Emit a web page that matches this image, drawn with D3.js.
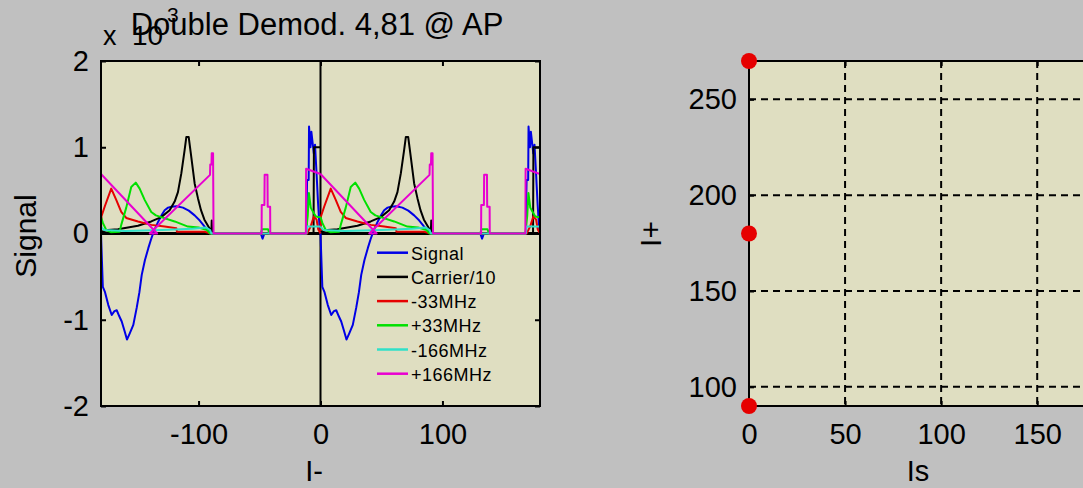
<!DOCTYPE html>
<html>
<head>
<meta charset="utf-8">
<script src="https://cdn.jsdelivr.net/npm/d3@7"></script>
<style>
  body { margin: 0; background: #c0c0c0; overflow: hidden; }
  text { font-family: "Liberation Sans", Arial, sans-serif; fill: #000; }
</style>
</head>
<body>
<div id="chart"></div>
<script>
// Double demod plot (left) + Is / I+ scatter (right)

const width = 1083, height = 488;

// one period of each trace: [offset within period (0..180), value]
const signalPts = [[0,0],[0.6,-250],[1.5,-620],[3.3,-680],[6,-830],[8.8,-945],[11,-900],[12.9,-890],[15,-960],[17,-1020],
  [19.5,-1140],[21.3,-1230],[23.5,-1160],[26.5,-1060],[29.3,-860],[31.5,-680],[33.4,-480],[36,-310],[38.8,-170],[41,-70],
  [43.7,40],[47,140],[50,220],[52.2,270],[55,300],[57.7,310],[62,315],[67.2,300],[72,265],[76.8,210],[81,150],[85,80],
  [88,30],[89.4,0],[131,0],[132.5,-60],[134,0],[168.5,0],[168.7,370],[169,620],[170.3,620],[170.6,1240],[171.8,1000],
  [172.5,1180],[174.5,930],[175.5,1030],[176.9,660],[178,350],[179.3,60],[180,0]];
const carrierPts = [[0,20],[5.7,40],[13.9,50],[30.3,90],[41.2,140],[49.4,190],[56.3,270],[60.4,370],[63.1,480],[65.9,700],
  [68.6,970],[70,1120],[71.9,1120],[74,890],[76.8,580],[79.5,410],[82,270],[84.8,160],[88.9,60],[90.5,20],[90.8,150],
  [91.2,0],[174.3,0],[174.6,1000],[180,1000]];
const minus33Pts = [[0,30],[0.4,200],[3,310],[8.4,520],[12.5,390],[16.6,250],[20.7,180],[30.3,140],[41.2,100],[52.2,80],
  [61.8,60],[62.3,20],[85,20],[90.2,0],[169,0],[169.7,20],[171.9,80],[174.6,200],[176.8,160],[178.1,50],[180,0]];
const plus33Pts = [[0,190],[1.6,120],[4.3,40],[8,15],[15.3,20],[16.6,100],[20.7,300],[24.8,540],[28.5,590],[31.7,520],
  [35.8,390],[41.2,250],[45,210],[49.4,190],[60.4,140],[71.3,80],[80,70],[87,40],[89.4,0],[131,0],[132,50],[137,50],
  [138,0],[168,0],[169.5,200],[170.5,470],[172,300],[174,250],[176,200],[178,190],[180,190]];
const minus166Pts = [[0,80],[2.5,40],[20,30],[50,40],[75,55],[86,70],[89.5,40],[90.5,0],[168.5,0],[169,80],[180,80]];
const plus166Pts = [[0,690],[46,0],[40,0],[89.4,680],[89.6,800],[90.6,800],[90.8,930],[91.9,930],[92.1,450],[92.3,0],
  [131.7,0],[131.8,330],[134,330],[134.2,680],[136.5,680],[136.7,310],[138.7,310],[138.8,0],[168,0],[168.2,750],[180,690]];

const periodStarts = [-180, 0];
const legendLabels = ["Signal", "Carrier/10", "-33MHz", "+33MHz", "-166MHz", "+166MHz"];
const lineColors = ["#0000e6", "#000000", "#e60000", "#00e000", "#30e0c8", "#e800d0"];

const leftXTicks = [-100, 0, 100];
const leftYTicks = [-2000, -1000, 0, 1000, 2000];

// right plot: red markers
const dotX = [0, 0, 0];
const dotY = [270, 180, 90];
const rightXTicks = [0, 50, 100, 150];
const rightYTicks = [100, 150, 200, 250];

const axesBg = "#dfdec1";
const plain = d => String(d); // hyphen minus like the original

const svg = d3.select("#chart")
  .append("svg")
  .attr("width", width)
  .attr("height", height)
  .attr("viewBox", [0, 0, width, height]);

svg.append("rect").attr("width", width).attr("height", height).attr("fill", "#c0c0c0");

// ---------- left plot ----------
const L = { left: 101, right: 540, top: 61, bottom: 406 };
const x1 = d3.scaleLinear().domain([-180, 180]).range([L.left, L.right]);
const y1 = d3.scaleLinear().domain([-2000, 2000]).range([L.bottom, L.top]);

svg.append("rect")
  .attr("x", L.left).attr("y", L.top)
  .attr("width", L.right - L.left).attr("height", L.bottom - L.top)
  .attr("fill", axesBg);

svg.append("clipPath").attr("id", "clipL")
  .append("rect")
  .attr("x", L.left).attr("y", L.top)
  .attr("width", L.right - L.left).attr("height", L.bottom - L.top);

const plotL = svg.append("g").attr("clip-path", "url(#clipL)");

// zero lines
plotL.append("line")
  .attr("x1", x1(-180)).attr("x2", x1(180))
  .attr("y1", y1(0)).attr("y2", y1(0))
  .attr("stroke", "#000").attr("stroke-width", 3);
plotL.append("line")
  .attr("x1", x1(0)).attr("x2", x1(0))
  .attr("y1", y1(-2000)).attr("y2", y1(2000))
  .attr("stroke", "#000").attr("stroke-width", 2);

const series = [signalPts, carrierPts, minus33Pts, plus33Pts, minus166Pts, plus166Pts]
  .map((pts, i) => ({ name: legendLabels[i], color: lineColors[i], pts }));

series.forEach(s => {
  periodStarts.forEach(off => {
    const line = d3.line()
      .x(d => x1(d[0] + off))
      .y(d => y1(d[1]));
    plotL.append("path")
      .attr("d", line(s.pts))
      .attr("fill", "none")
      .attr("stroke", s.color)
      .attr("stroke-width", 2)
      .attr("stroke-linejoin", "round");
  });
});

// axes with inward ticks
const tickFont = 29;
svg.append("g")
  .attr("transform", `translate(0,${L.bottom})`)
  .call(d3.axisBottom(x1).tickValues(leftXTicks).tickSize(-5).tickPadding(17).tickFormat(plain))
  .call(g => g.select(".domain").remove())
  .call(g => g.selectAll("text").attr("font-size", tickFont).attr("font-family", null));
svg.append("g")
  .attr("transform", `translate(0,${L.top})`)
  .call(d3.axisTop(x1).tickValues(leftXTicks).tickSize(-5).tickFormat(""))
  .call(g => g.select(".domain").remove());
svg.append("g")
  .attr("transform", `translate(${L.left},0)`)
  .call(d3.axisLeft(y1).tickValues(leftYTicks).tickSize(-5).tickPadding(12).tickFormat(d => String(d / 1000)))
  .call(g => g.select(".domain").remove())
  .call(g => g.selectAll("text").attr("font-size", tickFont).attr("font-family", null));
svg.append("g")
  .attr("transform", `translate(${L.right},0)`)
  .call(d3.axisRight(y1).tickValues(leftYTicks).tickSize(-5).tickFormat(""))
  .call(g => g.select(".domain").remove());
svg.selectAll(".tick line").attr("stroke-width", 2);

svg.append("rect")
  .attr("x", L.left).attr("y", L.top)
  .attr("width", L.right - L.left).attr("height", L.bottom - L.top)
  .attr("fill", "none").attr("stroke", "#000").attr("stroke-width", 2);

// legend (no box)
const legend = svg.append("g");
series.forEach((s, i) => {
  const ly = 252.7 + i * 24.2;
  legend.append("line")
    .attr("x1", 377).attr("x2", 408)
    .attr("y1", ly).attr("y2", ly)
    .attr("stroke", s.color).attr("stroke-width", 2.5);
  legend.append("text")
    .attr("x", 411).attr("y", ly + 7)
    .attr("font-size", 18)
    .attr("letter-spacing", 0.5)
    .text(s.name);
});

// title, exponent, labels
svg.append("text")
  .attr("x", 317).attr("y", 35)
  .attr("text-anchor", "middle")
  .attr("font-size", 31)
  .text("Double Demod. 4,81 @ AP");
svg.append("text").attr("x", 103).attr("y", 45).attr("font-size", 27).text("x");
svg.append("text").attr("x", 132).attr("y", 45).attr("font-size", 28).text("10");
svg.append("text").attr("x", 167).attr("y", 22).attr("font-size", 21).text("3");

svg.append("text")
  .attr("transform", "translate(36,236) rotate(-90)")
  .attr("text-anchor", "middle")
  .attr("font-size", 30)
  .text("Signal");
svg.append("text")
  .attr("x", 314).attr("y", 481)
  .attr("text-anchor", "middle")
  .attr("font-size", 29)
  .text("I-");

// ---------- right plot ----------
const R = { left: 749, right: 1189, top: 61, bottom: 406 };
const x2 = d3.scaleLinear().domain([0, 229]).range([R.left, R.right]);
const y2 = d3.scaleLinear().domain([90, 270]).range([R.bottom, R.top]);

svg.append("rect")
  .attr("x", R.left).attr("y", R.top)
  .attr("width", R.right - R.left).attr("height", R.bottom - R.top)
  .attr("fill", axesBg);

// dashed grid
svg.append("g")
  .selectAll("line")
  .data(rightXTicks.filter(d => d > 0))
  .join("line")
  .attr("x1", d => x2(d)).attr("x2", d => x2(d))
  .attr("y1", R.top).attr("y2", R.bottom)
  .attr("stroke", "#000").attr("stroke-width", 2).attr("stroke-dasharray", "7,5");
svg.append("g")
  .selectAll("line")
  .data(rightYTicks)
  .join("line")
  .attr("x1", R.left).attr("x2", R.right)
  .attr("y1", d => y2(d)).attr("y2", d => y2(d))
  .attr("stroke", "#000").attr("stroke-width", 2).attr("stroke-dasharray", "7,5");

svg.append("g")
  .attr("transform", `translate(0,${R.bottom})`)
  .call(d3.axisBottom(x2).tickValues(rightXTicks).tickSize(-5).tickPadding(17).tickFormat(plain))
  .call(g => g.select(".domain").remove())
  .call(g => g.selectAll("line").attr("stroke-width", 2))
  .call(g => g.selectAll("text").attr("font-size", tickFont).attr("font-family", null));
svg.append("g")
  .attr("transform", `translate(0,${R.top})`)
  .call(d3.axisTop(x2).tickValues(rightXTicks).tickSize(-5).tickFormat(""))
  .call(g => g.select(".domain").remove())
  .call(g => g.selectAll("line").attr("stroke-width", 2));
svg.append("g")
  .attr("transform", `translate(${R.left},0)`)
  .call(d3.axisLeft(y2).tickValues(rightYTicks).tickSize(-5).tickPadding(12).tickFormat(plain))
  .call(g => g.select(".domain").remove())
  .call(g => g.selectAll("line").attr("stroke-width", 2))
  .call(g => g.selectAll("text").attr("font-size", tickFont).attr("font-family", null));

svg.append("rect")
  .attr("x", R.left).attr("y", R.top)
  .attr("width", R.right - R.left).attr("height", R.bottom - R.top)
  .attr("fill", "none").attr("stroke", "#000").attr("stroke-width", 2);

svg.append("g")
  .selectAll("circle")
  .data(dotX.map((d, i) => [d, dotY[i]]))
  .join("circle")
  .attr("cx", d => x2(d[0]))
  .attr("cy", d => y2(d[1]))
  .attr("r", 8)
  .attr("fill", "#e60000");

svg.append("text")
  .attr("x", 918).attr("y", 481)
  .attr("text-anchor", "middle")
  .attr("font-size", 29)
  .text("Is");
svg.append("text")
  .attr("transform", "translate(661,234) rotate(-90)")
  .attr("text-anchor", "middle")
  .attr("font-size", 30)
  .text("I+");
</script>
</body>
</html>
